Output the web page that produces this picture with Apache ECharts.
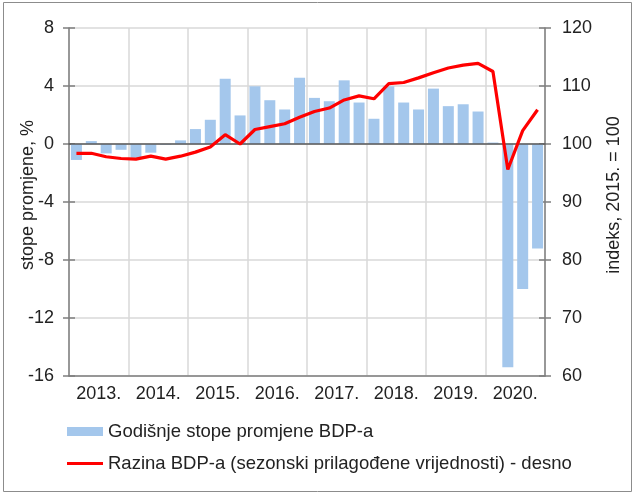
<!DOCTYPE html>
<html>
<head>
<meta charset="utf-8">
<script src="https://cdn.jsdelivr.net/npm/echarts@6/dist/echarts.min.js"></script>
<style>
html,body{margin:0;padding:0;background:#fff;}
#c{width:634px;height:494px;}
</style>
</head>
<body>
<div id="c"></div>
<script>
const years = ['2013.', '2014.', '2015.', '2016.', '2017.', '2018.', '2019.', '2020.'];
const quarters = [
  '2013Q1','2013Q2','2013Q3','2013Q4','2014Q1','2014Q2','2014Q3','2014Q4',
  '2015Q1','2015Q2','2015Q3','2015Q4','2016Q1','2016Q2','2016Q3','2016Q4',
  '2017Q1','2017Q2','2017Q3','2017Q4','2018Q1','2018Q2','2018Q3','2018Q4',
  '2019Q1','2019Q2','2019Q3','2019Q4','2020Q1','2020Q2','2020Q3','2020Q4'
];
const growthRates = [
  -1.1, 0.2, -0.65, -0.4, -0.95, -0.6, -0.05, 0.25,
  1.03, 1.67, 4.5, 1.97, 3.98, 3.02, 2.38, 4.57,
  3.18, 2.95, 4.39, 2.86, 1.74, 3.98, 2.86, 2.38,
  3.82, 2.61, 2.74, 2.24, 0.1, -15.4, -10.0, -7.2
];
const gdpLevel = [
  98.4, 98.4, 97.8, 97.5, 97.4, 97.9, 97.4, 97.9,
  98.6, 99.5, 101.6, 100.0, 102.5, 103.0, 103.5, 104.6,
  105.6, 106.2, 107.6, 108.3, 107.8, 110.4, 110.6, 111.4,
  112.3, 113.1, 113.6, 113.9, 112.5, 95.6, 102.3, 105.9
];
const leftTicks = [-16, 8, 4];   // min, max, interval
const rightTicks = [60, 120, 10];
const barName = 'Godišnje stope promjene BDP-a';
const lineName = 'Razina BDP-a (sezonski prilagođene vrijednosti) - desno';
const leftAxisName = 'stope promjene, %';
const rightAxisName = 'indeks, 2015. = 100';

const FONT = '"Liberation Sans", Arial, sans-serif';
const TXT = '#222';
const chart = echarts.init(document.getElementById('c'), null, {renderer: 'canvas'});
chart.setOption({
  animation: false,
  backgroundColor: '#fff',
  textStyle: {fontFamily: FONT},
  grid: {left: 69, right: 89, top: 28, bottom: 118},
  legend: [
    {
      left: 62, top: 417, padding: 5, itemWidth: 36, itemHeight: 9, itemGap: 0,
      textStyle: {fontFamily: FONT, fontSize: 18.5, color: TXT},
      data: [{name: barName, icon: 'rect'}]
    },
    {
      left: 62, top: 449, padding: 5, itemWidth: 36, itemHeight: 3, itemGap: 0,
      textStyle: {fontFamily: FONT, fontSize: 18.5, color: TXT},
      data: [{name: lineName, icon: 'rect', itemStyle: {color: '#ff0000'}}]
    }
  ],
  xAxis: [
    {
      type: 'category', data: quarters, position: 'top', z: 5,
      axisLine: {show: true, onZero: true, onZeroAxisIndex: 0, lineStyle: {color: '#595959', width: 1.5}},
      axisTick: {show: false}, axisLabel: {show: false}, splitLine: {show: false}
    },
    {
      type: 'category', data: years, position: 'bottom', boundaryGap: true,
      axisLine: {show: true, onZero: false, lineStyle: {color: '#7f7f7f', width: 1.5}},
      axisTick: {show: false},
      axisLabel: {fontFamily: FONT, fontSize: 18, color: TXT, margin: 9, interval: 0},
      splitLine: {show: true, interval: 0, lineStyle: {color: '#d9d9d9', width: 1.5}}
    }
  ],
  yAxis: [
    {
      type: 'value', position: 'left', min: leftTicks[0], max: leftTicks[1], interval: leftTicks[2],
      axisLine: {show: true, lineStyle: {color: '#7f7f7f', width: 1.5}},
      axisTick: {show: true, inside: false, length: 6, lineStyle: {color: '#7f7f7f', width: 1.5}},
      axisLabel: {fontFamily: FONT, fontSize: 18, color: TXT, margin: 15},
      splitLine: {show: true, lineStyle: {color: '#d9d9d9', width: 1.5}}
    },
    {
      type: 'value', position: 'right', min: rightTicks[0], max: rightTicks[1], interval: rightTicks[2],
      axisLine: {show: true, lineStyle: {color: '#7f7f7f', width: 1.5}},
      axisTick: {show: true, inside: false, length: 6, lineStyle: {color: '#7f7f7f', width: 1.5}},
      axisLabel: {fontFamily: FONT, fontSize: 18, color: TXT, margin: 17},
      splitLine: {show: false}
    },
    {
      type: 'value', position: 'left', min: leftTicks[0], max: leftTicks[1], interval: leftTicks[2],
      axisLine: {show: false},
      axisTick: {show: true, inside: true, length: 6, lineStyle: {color: '#7f7f7f', width: 1.5}},
      axisLabel: {show: false}, splitLine: {show: false}
    },
    {
      type: 'value', position: 'right', min: rightTicks[0], max: rightTicks[1], interval: rightTicks[2],
      axisLine: {show: false},
      axisTick: {show: true, inside: true, length: 6, lineStyle: {color: '#7f7f7f', width: 1.5}},
      axisLabel: {show: false}, splitLine: {show: false}
    }
  ],
  series: [
    {
      name: barName, type: 'bar', xAxisIndex: 0, yAxisIndex: 0,
      data: growthRates, barWidth: 11,
      itemStyle: {color: '#a4c7ec'}, z: 2
    },
    {
      name: lineName, type: 'line', xAxisIndex: 0, yAxisIndex: 1,
      data: gdpLevel, symbol: 'none', smooth: false,
      lineStyle: {color: '#ff0000', width: 3.2}, itemStyle: {color: '#ff0000'}, z: 10
    }
  ],
  graphic: [
    {
      type: 'text', x: 28, y: 195, rotation: Math.PI / 2,
      style: {text: leftAxisName, fontFamily: FONT, fontSize: 18, fill: TXT, textAlign: 'center', textVerticalAlign: 'middle'}
    },
    {
      type: 'text', x: 614, y: 195, rotation: Math.PI / 2,
      style: {text: rightAxisName, fontFamily: FONT, fontSize: 18, fill: TXT, textAlign: 'center', textVerticalAlign: 'middle'}
    },
    {
      type: 'rect', shape: {x: 3.5, y: 2.5, width: 628, height: 489},
      style: {fill: 'none', stroke: '#8c8c8c', lineWidth: 1}, silent: true
    }
  ]
});
</script>
</body>
</html>
